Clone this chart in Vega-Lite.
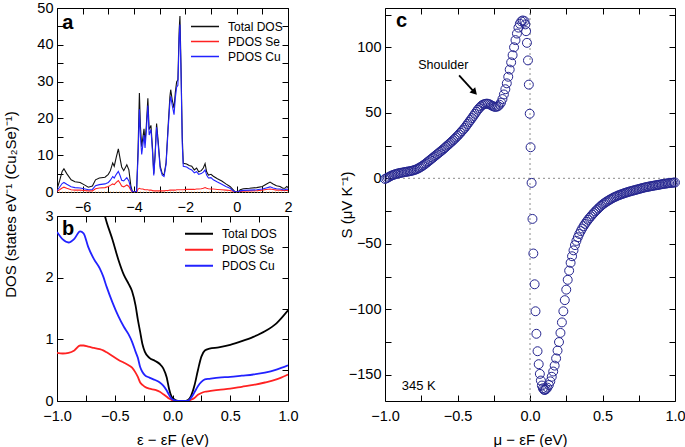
{
"$schema":"https://vega.github.io/schema/vega-lite/v6.json",
"background":"white",
"padding":{"left":2,"top":0,"right":0,"bottom":0},
"config":{
 "font":"Liberation Sans",
 "view":{"stroke":null},
 "axis":{"domainColor":"black","tickColor":"black","labelColor":"black","titleColor":"black","labelFont":"Liberation Sans","titleFont":"Liberation Sans","labelFontSize":14.5,"titleFontSize":15,"titleFontWeight":"normal","tickSize":-6,"grid":false,"labelFlush":false,"labelOverlap":false,"domainWidth":1,"tickWidth":1},
 "axisX":{"labelPadding":14},
 "axisY":{"labelPadding":10},
 "legend":{"labelFont":"Liberation Sans","labelFontSize":12,"labelColor":"black"}
},
"datasets":{
 "dosA":[
{"e":-7.0,"T":0.8,"C":0.4,"S":0.2},{"e":-6.9,"T":3.0,"C":1.3,"S":0.6},{"e":-6.8,"T":5.6,"C":2.3,"S":1.1},{"e":-6.73,"T":6.3,"C":2.6,"S":1.3},{"e":-6.62,"T":5.0,"C":2.1,"S":1.0},{"e":-6.45,"T":3.3,"C":1.4,"S":0.6},{"e":-6.3,"T":2.8,"C":1.2,"S":0.5},{"e":-6.1,"T":2.6,"C":1.1,"S":0.5},{"e":-5.95,"T":2.0,"C":0.9,"S":0.4},{"e":-5.78,"T":1.3,"C":0.6,"S":0.3},{"e":-5.62,"T":1.6,"C":0.7,"S":0.3},{"e":-5.5,"T":3.3,"C":1.7,"S":0.9},{"e":-5.35,"T":3.8,"C":2.0,"S":1.1},{"e":-5.13,"T":4.0,"C":2.2,"S":1.2},{"e":-5.0,"T":4.8,"C":2.6,"S":1.5},{"e":-4.92,"T":5.8,"C":3.2,"S":1.8},{"e":-4.83,"T":7.9,"C":4.2,"S":2.2},{"e":-4.77,"T":7.0,"C":3.8,"S":2.0},{"e":-4.69,"T":9.5,"C":4.8,"S":2.6},{"e":-4.61,"T":11.7,"C":5.6,"S":3.1},{"e":-4.54,"T":9.0,"C":4.4,"S":2.4},{"e":-4.48,"T":6.8,"C":3.2,"S":1.6},{"e":-4.4,"T":5.8,"C":3.0,"S":1.4},{"e":-4.28,"T":7.4,"C":3.9,"S":1.9},{"e":-4.2,"T":6.0,"C":3.0,"S":1.5},{"e":-4.12,"T":1.5,"C":0.8,"S":0.4},{"e":-4.06,"T":0.1,"C":0.05,"S":0.0},{"e":-3.9,"T":0.1,"C":0.05,"S":0.0},{"e":-3.84,"T":12,"C":10,"S":0.8},{"e":-3.79,"T":26.9,"C":22.5,"S":1.0},{"e":-3.75,"T":18,"C":15,"S":0.9},{"e":-3.7,"T":12.3,"C":10.2,"S":0.8},{"e":-3.65,"T":15,"C":13,"S":0.8},{"e":-3.61,"T":17.2,"C":15.5,"S":0.7},{"e":-3.57,"T":13.5,"C":12,"S":0.6},{"e":-3.52,"T":18,"C":16.5,"S":0.6},{"e":-3.46,"T":25.5,"C":23.5,"S":0.6},{"e":-3.41,"T":17,"C":15.5,"S":0.5},{"e":-3.34,"T":18.1,"C":17,"S":0.5},{"e":-3.28,"T":12,"C":11,"S":0.4},{"e":-3.23,"T":5.0,"C":4.5,"S":0.3},{"e":-3.18,"T":10,"C":9.3,"S":0.3},{"e":-3.12,"T":18.6,"C":17.6,"S":0.3},{"e":-3.06,"T":14,"C":13,"S":0.3},{"e":-2.98,"T":7,"C":6.4,"S":0.3},{"e":-2.9,"T":5.0,"C":4.6,"S":0.3},{"e":-2.83,"T":4.6,"C":4.2,"S":0.3},{"e":-2.75,"T":8,"C":7.5,"S":0.4},{"e":-2.67,"T":18,"C":17,"S":0.4},{"e":-2.6,"T":26,"C":24.5,"S":0.5},{"e":-2.57,"T":27.8,"C":26,"S":0.5},{"e":-2.51,"T":25,"C":23.5,"S":0.5},{"e":-2.44,"T":22.8,"C":21,"S":0.5},{"e":-2.39,"T":27,"C":25.5,"S":0.5},{"e":-2.34,"T":29.9,"C":28.5,"S":0.6},{"e":-2.29,"T":30.5,"C":29,"S":0.6},{"e":-2.24,"T":44,"C":42,"S":0.6},{"e":-2.21,"T":47.8,"C":45.5,"S":0.6},{"e":-2.17,"T":35,"C":33,"S":0.6},{"e":-2.12,"T":15,"C":13,"S":0.6},{"e":-2.08,"T":7.8,"C":7.0,"S":0.6},{"e":-1.95,"T":7.6,"C":6.8,"S":0.7},{"e":-1.85,"T":7.2,"C":6.3,"S":0.7},{"e":-1.75,"T":7.0,"C":6.0,"S":0.7},{"e":-1.65,"T":6.0,"C":5.2,"S":0.7},{"e":-1.56,"T":6.5,"C":5.5,"S":0.8},{"e":-1.48,"T":5.5,"C":4.8,"S":0.8},{"e":-1.38,"T":5.8,"C":5.0,"S":0.9},{"e":-1.3,"T":6.5,"C":5.4,"S":1.0},{"e":-1.23,"T":7.7,"C":6.0,"S":1.2},{"e":-1.17,"T":5.5,"C":4.6,"S":1.0},{"e":-1.1,"T":4.6,"C":3.8,"S":0.9},{"e":-1.0,"T":4.8,"C":3.9,"S":0.8},{"e":-0.91,"T":4.3,"C":3.3,"S":0.8},{"e":-0.75,"T":3.6,"C":2.7,"S":0.7},{"e":-0.58,"T":3.0,"C":2.1,"S":0.6},{"e":-0.42,"T":2.2,"C":1.5,"S":0.5},{"e":-0.26,"T":1.5,"C":1.0,"S":0.4},{"e":-0.15,"T":0.7,"C":0.4,"S":0.2},{"e":-0.07,"T":0.1,"C":0.05,"S":0.0},{"e":0.06,"T":0.1,"C":0.05,"S":0.0},{"e":0.14,"T":0.6,"C":0.3,"S":0.15},{"e":0.26,"T":0.9,"C":0.45,"S":0.25},{"e":0.5,"T":1.0,"C":0.5,"S":0.3},{"e":0.78,"T":1.2,"C":0.6,"S":0.35},{"e":1.0,"T":1.5,"C":0.8,"S":0.5},{"e":1.15,"T":2.1,"C":1.1,"S":0.7},{"e":1.3,"T":2.7,"C":1.4,"S":0.8},{"e":1.42,"T":2.2,"C":1.1,"S":0.7},{"e":1.55,"T":1.7,"C":0.9,"S":0.5},{"e":1.69,"T":1.5,"C":0.8,"S":0.5},{"e":1.8,"T":1.0,"C":0.6,"S":0.4},{"e":1.88,"T":1.0,"C":0.6,"S":0.4},{"e":1.95,"T":1.5,"C":0.8,"S":0.5},{"e":2.0,"T":1.2,"C":0.7,"S":0.4}
 ],
 "dosB":[
{"e":-1.0,"C":2.74,"S":0.78},{"e":-0.95,"C":2.62,"S":0.77},{"e":-0.9,"C":2.57,"S":0.78},{"e":-0.85,"C":2.63,"S":0.82},{"e":-0.8,"C":2.75,"S":0.9},{"e":-0.77,"C":2.72,"S":0.9},{"e":-0.73,"C":2.5,"S":0.88},{"e":-0.68,"T":3.75,"C":2.3,"S":0.86},{"e":-0.63,"T":3.3,"C":2.15,"S":0.84},{"e":-0.6,"T":3.1,"C":2.02,"S":0.82},{"e":-0.57,"T":2.9,"C":1.85,"S":0.79},{"e":-0.52,"T":2.62,"C":1.6,"S":0.73},{"e":-0.47,"T":2.3,"C":1.38,"S":0.67},{"e":-0.42,"T":2.04,"C":1.2,"S":0.62},{"e":-0.38,"T":1.9,"C":1.08,"S":0.58},{"e":-0.35,"T":1.78,"C":0.96,"S":0.54},{"e":-0.32,"T":1.55,"C":0.8,"S":0.46},{"e":-0.3,"T":1.32,"C":0.7,"S":0.39},{"e":-0.28,"T":1.12,"C":0.55,"S":0.3},{"e":-0.26,"T":0.92,"C":0.47,"S":0.26},{"e":-0.24,"T":0.8,"C":0.42,"S":0.23},{"e":-0.2,"T":0.7,"C":0.38,"S":0.2},{"e":-0.15,"T":0.65,"C":0.34,"S":0.18},{"e":-0.11,"T":0.6,"C":0.3,"S":0.15},{"e":-0.08,"T":0.53,"C":0.25,"S":0.11},{"e":-0.05,"T":0.38,"C":0.17,"S":0.07},{"e":-0.03,"T":0.2,"C":0.1,"S":0.04},{"e":-0.01,"T":0.08,"C":0.04,"S":0.02},{"e":0.02,"T":0.02,"C":0.01,"S":0.0},{"e":0.05,"T":0.0,"C":0.0,"S":0.0},{"e":0.1,"T":0.0,"C":0.0,"S":0.0},{"e":0.13,"T":0.01,"C":0.0,"S":0.0},{"e":0.16,"T":0.08,"C":0.05,"S":0.02},{"e":0.19,"T":0.25,"C":0.14,"S":0.05},{"e":0.22,"T":0.5,"C":0.24,"S":0.1},{"e":0.25,"T":0.72,"C":0.31,"S":0.13},{"e":0.28,"T":0.82,"C":0.35,"S":0.15},{"e":0.32,"T":0.85,"C":0.36,"S":0.16},{"e":0.4,"T":0.87,"C":0.38,"S":0.18},{"e":0.5,"T":0.91,"C":0.39,"S":0.2},{"e":0.6,"T":0.97,"C":0.41,"S":0.23},{"e":0.7,"T":1.04,"C":0.43,"S":0.26},{"e":0.8,"T":1.13,"C":0.46,"S":0.3},{"e":0.9,"T":1.26,"C":0.51,"S":0.35},{"e":1.0,"T":1.47,"C":0.58,"S":0.43}
 ],
 "seebeck":[
{"m":-1.0,"s":-0.5},{"m":-0.99,"s":0},{"m":-0.98,"s":0.6},{"m":-0.97,"s":1.2},{"m":-0.96,"s":1.8},{"m":-0.95,"s":2.3},{"m":-0.94,"s":2.7},{"m":-0.93,"s":3.1},{"m":-0.92,"s":3.4},{"m":-0.91,"s":3.7},{"m":-0.9,"s":4.0},{"m":-0.89,"s":4.2},{"m":-0.88,"s":4.4},{"m":-0.87,"s":4.6},{"m":-0.86,"s":4.8},{"m":-0.85,"s":5.0},{"m":-0.84,"s":5.2},{"m":-0.83,"s":5.4},{"m":-0.82,"s":5.6},{"m":-0.81,"s":5.9},{"m":-0.8,"s":6.2},{"m":-0.79,"s":6.6},{"m":-0.78,"s":7.0},{"m":-0.77,"s":7.6},{"m":-0.76,"s":8.2},{"m":-0.75,"s":8.9},{"m":-0.74,"s":9.6},{"m":-0.73,"s":10.4},{"m":-0.72,"s":11.2},{"m":-0.71,"s":12.1},{"m":-0.7,"s":13.0},{"m":-0.69,"s":13.9},{"m":-0.68,"s":14.8},{"m":-0.67,"s":15.7},{"m":-0.66,"s":16.6},{"m":-0.65,"s":17.5},{"m":-0.64,"s":18.4},{"m":-0.63,"s":19.3},{"m":-0.62,"s":20.2},{"m":-0.61,"s":21.1},{"m":-0.6,"s":22.0},{"m":-0.59,"s":23.0},{"m":-0.58,"s":24.0},{"m":-0.57,"s":25.0},{"m":-0.56,"s":26.0},{"m":-0.55,"s":27.0},{"m":-0.54,"s":28.0},{"m":-0.53,"s":29.0},{"m":-0.52,"s":30.1},{"m":-0.51,"s":31.2},{"m":-0.5,"s":32.3},{"m":-0.49,"s":33.5},{"m":-0.48,"s":34.7},{"m":-0.47,"s":36.0},{"m":-0.46,"s":37.2},{"m":-0.45,"s":38.5},{"m":-0.44,"s":40.0},{"m":-0.43,"s":41.5},{"m":-0.42,"s":43.0},{"m":-0.41,"s":44.5},{"m":-0.4,"s":46.0},{"m":-0.39,"s":47.6},{"m":-0.38,"s":49.2},{"m":-0.37,"s":50.8},{"m":-0.36,"s":52.3},{"m":-0.35,"s":53.6},{"m":-0.34,"s":54.8},{"m":-0.33,"s":55.8},{"m":-0.32,"s":56.4},{"m":-0.31,"s":56.8},{"m":-0.3,"s":57.0},{"m":-0.29,"s":56.9},{"m":-0.28,"s":56.5},{"m":-0.27,"s":55.9},{"m":-0.26,"s":55.3},{"m":-0.25,"s":54.8},{"m":-0.24,"s":54.5},{"m":-0.23,"s":54.6},{"m":-0.22,"s":55.1},{"m":-0.21,"s":56.2},{"m":-0.2,"s":57.8},{"m":-0.19,"s":60.5},{"m":-0.18,"s":64.0},{"m":-0.17,"s":68.0},{"m":-0.16,"s":72.5},{"m":-0.15,"s":77.5},{"m":-0.14,"s":83.0},{"m":-0.13,"s":88.5},{"m":-0.12,"s":94.0},{"m":-0.11,"s":100.0},{"m":-0.1,"s":105.5},{"m":-0.09,"s":110.5},{"m":-0.08,"s":115.0},{"m":-0.07,"s":118.0},{"m":-0.06,"s":119.8},{"m":-0.05,"s":120.5},
{"m":-0.038,"s":120.0},{"m":-0.032,"s":117.5},{"m":-0.027,"s":112.3},{"m":-0.021,"s":103.4},{"m":-0.014,"s":90},{"m":-0.008,"s":71.5},{"m":-0.002,"s":49.3},{"m":0.004,"s":23.7},{"m":0.011,"s":-3.5},{"m":0.017,"s":-31},{"m":0.023,"s":-57.4},{"m":0.032,"s":-80.9},{"m":0.038,"s":-101.5},{"m":0.044,"s":-118.7},{"m":0.052,"s":-132},{"m":0.06,"s":-141.9},{"m":0.068,"s":-149.3},{"m":0.075,"s":-154.4},{"m":0.082,"s":-158.2},{"m":0.089,"s":-160.3},{"m":0.096,"s":-161.4},{"m":0.103,"s":-161.6},
{"m":0.11,"s":-161},{"m":0.12,"s":-159.8},{"m":0.13,"s":-157.8},{"m":0.14,"s":-155},{"m":0.15,"s":-151.5},{"m":0.16,"s":-147.5},{"m":0.17,"s":-143},{"m":0.18,"s":-137.5},{"m":0.19,"s":-131.5},{"m":0.2,"s":-125},{"m":0.21,"s":-118},{"m":0.22,"s":-110},{"m":0.23,"s":-101.5},{"m":0.24,"s":-93},{"m":0.25,"s":-85},{"m":0.26,"s":-77.5},{"m":0.27,"s":-70.5},{"m":0.28,"s":-64.5},{"m":0.29,"s":-59.5},{"m":0.3,"s":-55},{"m":0.31,"s":-51},{"m":0.32,"s":-47.8},{"m":0.33,"s":-45},{"m":0.34,"s":-42.5},{"m":0.35,"s":-40.3},{"m":0.36,"s":-38.3},{"m":0.37,"s":-36.5},{"m":0.38,"s":-34.8},{"m":0.39,"s":-33.2},{"m":0.4,"s":-31.7},{"m":0.41,"s":-30.3},{"m":0.42,"s":-29},{"m":0.43,"s":-27.7},{"m":0.44,"s":-26.5},{"m":0.45,"s":-25.3},{"m":0.46,"s":-24.2},{"m":0.47,"s":-23.1},{"m":0.48,"s":-22},{"m":0.49,"s":-21},{"m":0.5,"s":-20},{"m":0.51,"s":-19.2},{"m":0.52,"s":-18.4},{"m":0.53,"s":-17.7},{"m":0.54,"s":-17},{"m":0.55,"s":-16.3},{"m":0.56,"s":-15.7},{"m":0.57,"s":-15.1},{"m":0.58,"s":-14.5},{"m":0.59,"s":-14},{"m":0.6,"s":-13.5},{"m":0.61,"s":-13},{"m":0.62,"s":-12.6},{"m":0.63,"s":-12.2},{"m":0.64,"s":-11.8},{"m":0.65,"s":-11.4},{"m":0.66,"s":-11},{"m":0.67,"s":-10.7},{"m":0.68,"s":-10.3},{"m":0.69,"s":-10},{"m":0.7,"s":-9.7},{"m":0.71,"s":-9.4},{"m":0.72,"s":-9.1},{"m":0.73,"s":-8.8},{"m":0.74,"s":-8.5},{"m":0.75,"s":-8.2},{"m":0.76,"s":-7.9},{"m":0.77,"s":-7.6},{"m":0.78,"s":-7.3},{"m":0.79,"s":-7},{"m":0.8,"s":-6.8},{"m":0.81,"s":-6.6},{"m":0.82,"s":-6.3},{"m":0.83,"s":-6.1},{"m":0.84,"s":-5.9},{"m":0.85,"s":-5.7},{"m":0.86,"s":-5.5},{"m":0.87,"s":-5.3},{"m":0.88,"s":-5.1},{"m":0.89,"s":-4.9},{"m":0.9,"s":-4.7},{"m":0.91,"s":-4.5},{"m":0.92,"s":-4.3},{"m":0.93,"s":-4.1},{"m":0.94,"s":-4},{"m":0.95,"s":-3.8},{"m":0.96,"s":-3.7},{"m":0.97,"s":-3.5},{"m":0.98,"s":-3.4},{"m":0.99,"s":-3.3},{"m":1.0,"s":-3.2}
 ]
},
"hconcat":[
 {
  "vconcat":[
   {
    "width":231,"height":184,
    "layer":[
     {"data":{"values":[{}]},"mark":{"type":"rule","color":"#f2a65a","strokeDash":[1,2],"strokeWidth":1},
      "encoding":{"y":{"datum":0,"type":"quantitative","axis":{"orient":"right","labels":false,"title":null,"values":[0,5,10,15,20,25,30,35,40,45,50]}}}},
     {"data":{"values":[{}]},"mark":{"type":"rule","opacity":0},
      "encoding":{"x":{"datum":0,"type":"quantitative","axis":{"orient":"top","labels":false,"title":null,"values":[-7,-6,-5,-4,-3,-2,-1,0,1,2]}}}},
     {"data":{"name":"dosA"},
      "transform":[{"fold":["T","S","C"],"as":["series","v"]}],
      "mark":{"type":"line","strokeWidth":1.1,"clip":true},
      "encoding":{
       "x":{"field":"e","type":"quantitative","scale":{"domain":[-7,2],"nice":false},"axis":{"orient":"bottom","title":null,"format":"d","values":[-7,-6,-5,-4,-3,-2,-1,0,1,2],"labelExpr":"datum.value % 2 === 0 ? datum.label : ''"}},
       "y":{"field":"v","type":"quantitative","scale":{"domain":[0,50],"nice":false},"axis":{"orient":"left","title":null,"format":"d","values":[0,5,10,15,20,25,30,35,40,45,50],"labelExpr":"datum.value % 10 === 0 ? datum.label : ''"}},
       "color":{"field":"series","type":"nominal","scale":{"domain":["T","S","C"],"range":["#111111","#ff2222","#2222ff"]},
        "legend":{"orient":"none","legendX":133,"legendY":12,"title":null,"symbolType":"stroke","symbolSize":784,"symbolStrokeWidth":1.3,"labelFontSize":12,"labelOffset":8,"clipHeight":13,"rowPadding":2,"padding":0,
         "labelExpr":"datum.label === 'T' ? 'Total DOS' : datum.label === 'S' ? 'PDOS Se' : 'PDOS Cu'"}}
      }},
     {"data":{"values":[{"x":-6.8,"y":44.4,"t":"a"}]},"mark":{"type":"text","align":"left","baseline":"alphabetic","fontSize":20,"fontWeight":"bold","color":"black"},
      "encoding":{"x":{"field":"x","type":"quantitative","axis":null},"y":{"field":"y","type":"quantitative","axis":null},"text":{"field":"t"}}}
    ],
    "resolve":{"axis":{"x":"independent","y":"independent"}}
   },
   {
    "width":231,"height":185,
    "layer":[
     {"data":{"values":[{}]},"mark":{"type":"rule","opacity":0},
      "encoding":{"y":{"datum":0,"type":"quantitative","axis":{"orient":"right","labels":false,"title":null,"values":[0,0.5,1,1.5,2,2.5,3]}}}},
     {"data":{"values":[{}]},"mark":{"type":"rule","opacity":0},
      "encoding":{"x":{"datum":0,"type":"quantitative","axis":{"orient":"top","labels":false,"title":null,"values":[-1,-0.75,-0.5,-0.25,0,0.25,0.5,0.75,1]}}}},
     {"data":{"name":"dosB"},
      "transform":[{"fold":["T","S","C"],"as":["series","v"]}],
      "mark":{"type":"line","strokeWidth":1.8,"clip":true,"interpolate":"monotone"},
      "encoding":{
       "x":{"field":"e","type":"quantitative","scale":{"domain":[-1,1],"nice":false},"axis":{"orient":"bottom","title":"ε − εF (eV)","titleX":115.5,"titleY":38,"titleBaseline":"middle","format":".1f","values":[-1,-0.75,-0.5,-0.25,0,0.25,0.5,0.75,1],"labelExpr":"datum.value % 0.5 === 0 ? datum.label : ''"}},
       "y":{"field":"v","type":"quantitative","scale":{"domain":[0,3],"nice":false},"axis":{"orient":"left","title":"DOS (states eV⁻¹ (Cu₂Se)⁻¹)","titleX":-47,"titleY":-12,"titleBaseline":"middle","titleAlign":"center","format":"d","values":[0,0.5,1,1.5,2,2.5,3],"labelExpr":"datum.value % 1 === 0 ? datum.label : ''"}},
       "color":{"field":"series","type":"nominal","scale":{"domain":["T","S","C"],"range":["#000000","#ff2222","#2222ff"]},
        "legend":{"orient":"none","legendX":127,"legendY":11,"title":null,"symbolType":"stroke","symbolSize":784,"symbolStrokeWidth":2,"labelFontSize":12,"labelOffset":8,"clipHeight":13.5,"rowPadding":2,"padding":0,
         "labelExpr":"datum.label === 'T' ? 'Total DOS' : datum.label === 'S' ? 'PDOS Se' : 'PDOS Cu'"}}
      }},
     {"data":{"values":[{"x":-0.957,"y":2.7,"t":"b"}]},"mark":{"type":"text","align":"left","baseline":"alphabetic","fontSize":20,"fontWeight":"bold","color":"black"},
      "encoding":{"x":{"field":"x","type":"quantitative","axis":null},"y":{"field":"y","type":"quantitative","axis":null},"text":{"field":"t"}}}
    ],
    "resolve":{"axis":{"x":"independent","y":"independent"}}
   }
  ],
  "spacing":24,
  "bounds":"flush",
  "resolve":{"scale":{"x":"independent","y":"independent","color":"independent"},"legend":{"color":"independent"}}
 },
 {
  "width":290,"height":393,
  "layer":[
   {"data":{"values":[{}]},"mark":{"type":"rule","color":"#8a8a8a","strokeDash":[2,3],"strokeWidth":1},
    "encoding":{"x":{"datum":0,"type":"quantitative","axis":{"orient":"top","labels":false,"title":null,"values":[-1,-0.75,-0.5,-0.25,0,0.25,0.5,0.75,1]}}}},
   {"data":{"values":[{}]},"mark":{"type":"rule","color":"#8a8a8a","strokeDash":[2,3],"strokeWidth":1},
    "encoding":{"y":{"datum":0,"type":"quantitative","axis":{"orient":"right","labels":false,"title":null,"values":[-150,-125,-100,-75,-50,-25,0,25,50,75,100,125]}}}},
   {"data":{"name":"seebeck"},
    "mark":{"type":"point","shape":"circle","filled":false,"size":80,"strokeWidth":1,"color":"#25258f","opacity":1},
    "encoding":{
     "x":{"field":"m","type":"quantitative","scale":{"domain":[-1,1],"nice":false},"axis":{"orient":"bottom","title":"μ − εF (eV)","titleX":145,"titleY":38,"titleBaseline":"middle","format":".1f","values":[-1,-0.75,-0.5,-0.25,0,0.25,0.5,0.75,1],"labelExpr":"datum.value % 0.5 === 0 ? datum.label : ''"}},
     "y":{"field":"s","type":"quantitative","scale":{"domain":[-170,130],"nice":false,"zero":false},"axis":{"orient":"left","title":"S (μV K⁻¹)","titleX":-38.5,"titleBaseline":"middle","format":"d","values":[-150,-125,-100,-75,-50,-25,0,25,50,75,100,125],"labelExpr":"datum.value % 50 === 0 ? datum.label : ''"}}
    }},
   {"data":{"values":[{"x":-0.924,"y":115.4,"t":"c"}]},"mark":{"type":"text","align":"left","baseline":"alphabetic","fontSize":20,"fontWeight":"bold","color":"black"},
    "encoding":{"x":{"field":"x","type":"quantitative","axis":null},"y":{"field":"y","type":"quantitative","axis":null},"text":{"field":"t"}}},
   {"data":{"values":[{"x":-0.598,"y":83.5,"t":"Shoulder"}]},"mark":{"type":"text","align":"center","baseline":"alphabetic","fontSize":12.5,"color":"black"},
    "encoding":{"x":{"field":"x","type":"quantitative","axis":null},"y":{"field":"y","type":"quantitative","axis":null},"text":{"field":"t"}}},
   {"data":{"values":[{"x":-0.885,"y":-161.3,"t":"345 K"}]},"mark":{"type":"text","align":"left","baseline":"alphabetic","fontSize":13,"color":"black"},
    "encoding":{"x":{"field":"x","type":"quantitative","axis":null},"y":{"field":"y","type":"quantitative","axis":null},"text":{"field":"t"}}},
   {"data":{"values":[{"x1":-0.489,"y1":78.6,"x2":-0.384,"y2":65.8}]},"mark":{"type":"rule","color":"black","strokeWidth":1.8},
    "encoding":{"x":{"field":"x1","type":"quantitative","axis":null},"y":{"field":"y1","type":"quantitative","axis":null},"x2":{"field":"x2"},"y2":{"field":"y2"}}},
   {"data":{"values":[{"x":-0.382,"y":65.6}]},"mark":{"type":"point","shape":"triangle-up","filled":true,"size":60,"angle":137.5,"color":"black","opacity":1},
    "encoding":{"x":{"field":"x","type":"quantitative","axis":null},"y":{"field":"y","type":"quantitative","axis":null}}}
  ],
  "resolve":{"axis":{"x":"independent","y":"independent"}}
 }
],
"spacing":40,
"bounds":"full",
"resolve":{"scale":{"x":"independent","y":"independent"}}
}
